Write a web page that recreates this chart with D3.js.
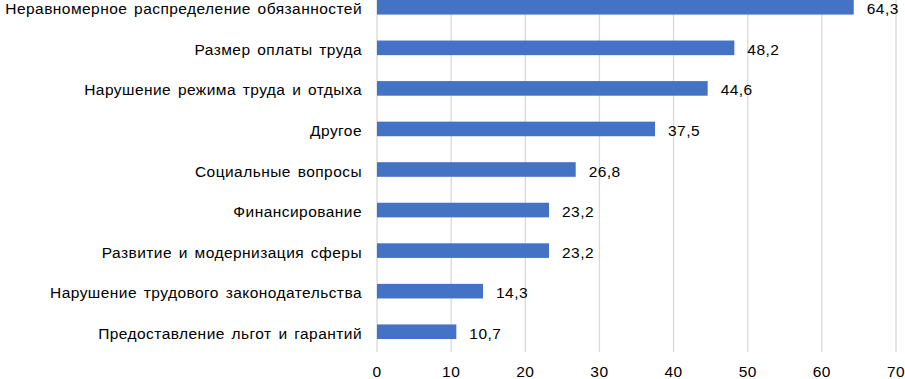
<!DOCTYPE html>
<html lang="ru">
<head>
<meta charset="UTF-8">
<title>Bar chart</title>
<script src="https://d3js.org/d3.v7.min.js"></script>
<style>
  body { margin: 0; background: #fff; }
  text { font-family: "Liberation Sans", Arial, sans-serif; font-size: 15.5px; letter-spacing: 0.45px; fill: #000; }
</style>
</head>
<body>
<script>
// data, top to bottom
const categories = [
  "Неравномерное распределение обязанностей",
  "Размер оплаты труда",
  "Нарушение режима труда и отдыха",
  "Другое",
  "Социальные вопросы",
  "Финансирование",
  "Развитие и модернизация сферы",
  "Нарушение трудового законодательства",
  "Предоставление льгот и гарантий"
];
const values = [64.3, 48.2, 44.6, 37.5, 26.8, 23.2, 23.2, 14.3, 10.7];
const xTicks = [0, 10, 20, 30, 40, 50, 60, 70];

const width = 905, height = 379;
const plotLeft = 377, plotRight = 896, plotTop = -13, plotBottom = 352;

const svg = d3.select("body").append("svg")
    .attr("width", width)
    .attr("height", height);

const x = d3.scaleLinear().domain([0, 70]).range([plotLeft, plotRight]);
const y = d3.scaleBand().domain(categories).range([plotTop, plotBottom]).paddingInner(0.64).paddingOuter(0.32);

// gridlines
svg.append("g").selectAll("line")
    .data(xTicks)
    .join("line")
    .attr("x1", d => x(d)).attr("x2", d => x(d))
    .attr("y1", 0).attr("y2", plotBottom)
    .attr("stroke", "#d9d9d9")
    .attr("stroke-width", 1.3);

// axis labels
svg.append("g").selectAll("text")
    .data(xTicks)
    .join("text")
    .attr("x", d => x(d))
    .attr("y", 377)
    .attr("text-anchor", "middle")
    .text(d => d);

// bars
svg.append("g").selectAll("rect")
    .data(values)
    .join("rect")
    .attr("x", x(0))
    .attr("y", (d, i) => y(categories[i]))
    .attr("width", d => x(d) - x(0))
    .attr("height", y.bandwidth())
    .attr("fill", "#4472c4");

// value labels
svg.append("g").selectAll("text")
    .data(values)
    .join("text")
    .attr("x", d => x(d) + 13)
    .attr("y", (d, i) => y(categories[i]) + y.bandwidth() / 2 + 7)
    .text(d => d3.format(".1f")(d).replace(".", ","));

// category labels
svg.append("g").selectAll("text")
    .data(categories)
    .join("text")
    .attr("x", 362)
    .attr("y", d => y(d) + y.bandwidth() / 2 + 7)
    .attr("text-anchor", "end")
    .attr("word-spacing", 2)
    .text(d => d);
</script>
</body>
</html>
